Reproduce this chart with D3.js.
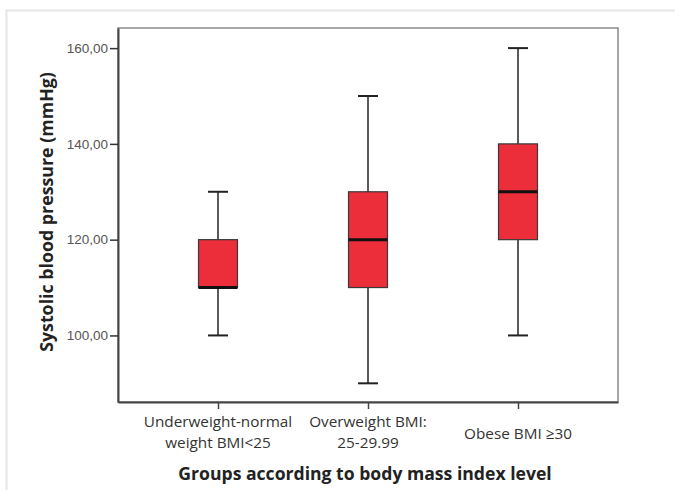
<!DOCTYPE html>
<html>
<head>
<meta charset="utf-8">
<script src="https://cdn.jsdelivr.net/npm/d3@7"></script>
<style>
  body { margin: 0; background: #fff; }
  svg { display: block; }
</style>
</head>
<body>
<div class="plot"></div>
<script>
// Box plot values
const groups = [["Underweight-normal", "weight BMI<25"], ["Overweight BMI:", "25-29.99"], ["Obese BMI \u226530"]];
const mins = [100, 90, 100];
const q1s = [110, 110, 120];
const medians = [110, 120, 130];
const q3s = [120, 130, 140];
const maxs = [130, 150, 160];
const yTicks = [100, 120, 140, 160];

const width = 675, height = 490;
const margin = {top: 28, right: 57, bottom: 88, left: 118};
const w = width - margin.left - margin.right;
const h = height - margin.top - margin.bottom;

const svg = d3.select(".plot")
    .append("svg")
        .attr("width", width)
        .attr("height", height);

// light outer frame
svg.append("rect")
    .attr("x", 6.5).attr("y", 10.5)
    .attr("width", 700).attr("height", 500)
    .attr("fill", "none")
    .attr("stroke", "#e6e6e6")
    .attr("stroke-width", 2);

const g = svg.append("g")
    .attr("transform", "translate(" + margin.left + "," + margin.top + ")");

const x = d3.scalePoint()
    .domain(d3.range(groups.length))
    .range([0, w])
    .padding(2 / 3);

const y = d3.scaleLinear()
    .domain([86.1, 164.2])
    .range([h, 0]);

// plot frame
g.append("rect")
    .attr("x", 0).attr("y", 0)
    .attr("width", w).attr("height", h)
    .attr("fill", "none")
    .attr("stroke", "#8a8a8a")
    .attr("stroke-width", 1.5);

// y axis
const yAxis = g.append("g")
    .call(d3.axisLeft(y).tickValues(yTicks).tickSize(8).tickSizeOuter(0)
        .tickFormat(d => d3.format(".2f")(d).replace(".", ",")));
yAxis.select(".domain").attr("stroke", "#444").attr("stroke-width", 2);
yAxis.selectAll(".tick line").attr("stroke", "#333").attr("stroke-width", 1.5);
yAxis.selectAll(".tick text")
    .attr("x", -10)
    .attr("fill", "#555")
    .style("font-family", "Liberation Sans, Arial, sans-serif")
    .style("font-size", "13.5px");

// x axis
const xAxis = g.append("g")
    .attr("transform", "translate(0," + h + ")")
    .call(d3.axisBottom(x).tickSize(7).tickSizeOuter(0).tickFormat(""));
xAxis.select(".domain").attr("stroke", "#444").attr("stroke-width", 2);
xAxis.selectAll(".tick line").attr("stroke", "#444").attr("stroke-width", 1.5);

// category labels
const labels = g.selectAll(".cat")
    .data(groups)
    .enter()
    .append("text")
        .attr("class", "cat")
        .attr("text-anchor", "middle")
        .attr("fill", "#333")
        .style("font-family", "Open Sans, sans-serif")
        .style("font-size", "15.3px")
        .attr("transform", (d, i) => "translate(" + x(i) + "," + (d.length > 1 ? h + 25 : h + 37) + ")");
labels.selectAll("tspan")
    .data(d => d)
    .enter()
    .append("tspan")
        .attr("x", 0)
        .attr("dy", (d, i) => i ? 21 : 0)
        .text(d => d);

// whiskers
const boxW = 39, capW = 20;
const idx = d3.range(groups.length);

g.selectAll(".whisker")
    .data(idx)
    .enter()
    .append("line")
        .attr("class", "whisker")
        .attr("x1", i => x(i)).attr("x2", i => x(i))
        .attr("y1", i => y(maxs[i])).attr("y2", i => y(mins[i]))
        .attr("stroke", "#222")
        .attr("stroke-width", 1.5);

g.selectAll(".cap")
    .data(idx.flatMap(i => [[i, mins[i]], [i, maxs[i]]]))
    .enter()
    .append("line")
        .attr("class", "cap")
        .attr("x1", d => x(d[0]) - capW / 2).attr("x2", d => x(d[0]) + capW / 2)
        .attr("y1", d => y(d[1])).attr("y2", d => y(d[1]))
        .attr("stroke", "#222")
        .attr("stroke-width", 2);

// boxes
g.selectAll(".box")
    .data(idx)
    .enter()
    .append("rect")
        .attr("class", "box")
        .attr("x", i => x(i) - boxW / 2)
        .attr("width", boxW)
        .attr("y", i => y(q3s[i]))
        .attr("height", i => y(q1s[i]) - y(q3s[i]))
        .attr("fill", "#ec2d3a")
        .attr("stroke", "#3a3a3a")
        .attr("stroke-width", 1.2);

// medians
g.selectAll(".median")
    .data(idx)
    .enter()
    .append("line")
        .attr("class", "median")
        .attr("x1", i => x(i) - boxW / 2).attr("x2", i => x(i) + boxW / 2)
        .attr("y1", i => y(medians[i])).attr("y2", i => y(medians[i]))
        .attr("stroke", "#111")
        .attr("stroke-width", 3);

// axis titles
svg.append("text")
    .attr("transform", "translate(53,212) rotate(-90)")
    .attr("text-anchor", "middle")
    .attr("fill", "#222")
    .style("font-family", "Open Sans, sans-serif")
    .style("font-weight", "bold")
    .style("font-size", "17.8px")
    .text("Systolic blood pressure (mmHg)");

svg.append("text")
    .attr("x", 365)
    .attr("y", 480)
    .attr("text-anchor", "middle")
    .attr("fill", "#222")
    .style("font-family", "Open Sans, sans-serif")
    .style("font-weight", "bold")
    .style("font-size", "17.6px")
    .text("Groups according to body mass index level");
</script>
</body>
</html>
